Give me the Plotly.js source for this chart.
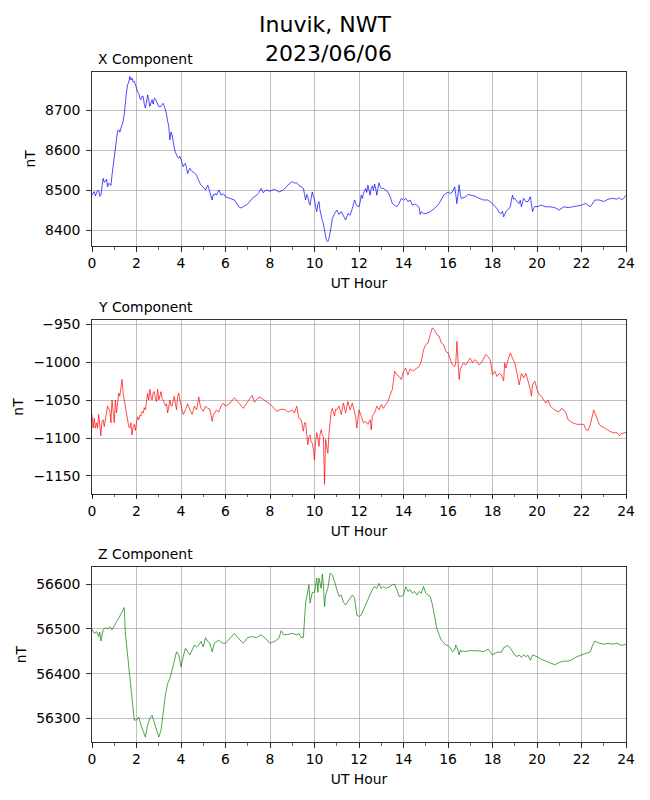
<!DOCTYPE html>
<html>
<head>
<meta charset="utf-8">
<script src="https://cdn.plot.ly/plotly-3.0.1.min.js"></script>
<style>
  html, body { margin: 0; padding: 0; background: #fff; }
  #plot { width: 650px; height: 800px; }
</style>
</head>
<body>
<div id="plot"></div>
<script>
// Inuvik magnetometer, 2023/06/06
var hours_x = [0,0.05,0.1,0.15,0.2,0.25,0.3,0.35,0.4,0.45,0.5,0.55,0.6,0.65,0.7,0.75,0.8,0.85,0.9,0.95,
  1,1.05,1.1,1.15,1.2,1.25,1.3,1.35,1.4,1.45,1.5,1.55,1.6,1.65,1.7,1.75,1.8,1.85,1.9,1.95,
  2,2.05,2.1,2.15,2.2,2.25,2.3,2.35,2.4,2.45,2.5,2.55,2.6,2.65,2.7,2.75,2.8,2.85,2.9,2.95,
  3,3.1,3.15,3.2,3.25,3.3,3.35,3.4,3.45,3.5,3.55,3.6,3.65,3.7,3.75,3.8,3.85,3.9,3.95,
  4,4.05,4.1,4.15,4.2,4.25,4.3,4.35,4.4,4.45,4.5,4.6,4.7,4.75,4.8,4.85,4.9,
  5,5.05,5.1,5.15,5.2,5.25,5.3,5.35,5.4,5.45,5.5,5.55,5.6,5.65,5.7,5.75,5.8,5.9,
  6,6.2,6.4,6.5,6.6,6.7,6.8,7,7.2,7.4,7.5,7.6,7.65,7.7,7.8,
  8,8.2,8.4,8.6,8.8,9,9.1,9.2,9.3,9.4,9.5,9.55,9.6,9.65,9.7,9.75,9.8,9.85,9.9,9.95,
  10,10.05,10.1,10.15,10.2,10.25,10.3,10.35,10.4,10.45,10.5,10.55,10.6,10.65,10.7,10.75,10.8,10.85,10.9,
  11,11.1,11.2,11.3,11.4,11.5,11.6,11.7,11.8,11.9,
  12,12.05,12.1,12.15,12.2,12.3,12.35,12.4,12.45,12.5,12.55,12.6,12.65,12.7,12.75,12.8,12.85,12.9,12.95,
  13,13.1,13.2,13.3,13.4,13.5,13.6,13.7,13.8,13.9,
  14,14.1,14.2,14.3,14.4,14.5,14.6,14.7,14.75,14.8,14.9,
  15,15.2,15.4,15.6,15.8,16,16.1,16.2,16.3,16.35,16.4,16.45,16.5,16.55,16.6,16.8,16.9,
  17,17.2,17.4,17.6,17.8,18,18.1,18.2,18.3,18.4,18.45,18.5,18.55,18.6,18.7,18.8,18.85,18.9,18.95,
  19,19.1,19.2,19.25,19.3,19.35,19.4,19.5,19.6,19.7,19.75,19.8,19.85,19.9,
  20,20.2,20.4,20.6,20.8,21,21.2,21.4,21.6,21.8,22,22.1,22.2,22.4,22.5,22.6,22.8,
  23,23.2,23.4,23.6,23.7,23.8,23.9,24];
var x_nt = [8488,8495,8497,8486,8492,8500,8499,8485,8488,8505,8530,8520,8522,8528,8509,8518,8516,8512,8538,8560,
  8592,8610,8638,8648,8651,8645,8655,8665,8672,8690,8730,8745,8763,8770,8784,8775,8780,8770,8772,8760,
  8755,8745,8742,8730,8726,8735,8734,8715,8705,8720,8738,8725,8709,8718,8726,8715,8730,8728,8722,8712,
  8709,8709,8712,8717,8710,8701,8690,8672,8660,8626,8645,8638,8615,8605,8595,8588,8582,8580,8585,
  8576,8568,8559,8565,8567,8555,8542,8550,8555,8550,8547,8544,8538,8530,8522,8518,8513,
  8509,8505,8501,8508,8513,8505,8497,8485,8476,8490,8488,8492,8488,8495,8501,8495,8488,8492,
  8484,8480,8476,8468,8459,8456,8459,8466,8480,8488,8495,8505,8500,8494,8501,
  8498,8503,8496,8501,8513,8522,8518,8519,8512,8509,8505,8490,8476,8490,8484,8470,8463,8480,8496,8485,
  8476,8460,8447,8465,8472,8450,8434,8425,8417,8395,8384,8375,8372,8380,8392,8410,8430,8438,8442,
  8451,8440,8447,8435,8426,8442,8438,8455,8476,8462,
  8459,8470,8488,8480,8492,8505,8495,8513,8500,8488,8505,8511,8500,8516,8505,8488,8505,8519,8510,
  8505,8505,8501,8496,8484,8467,8463,8459,8467,8480,
  8476,8480,8472,8476,8463,8466,8463,8458,8440,8447,8442,
  8442,8447,8455,8467,8488,8496,8492,8496,8509,8490,8467,8490,8514,8490,8480,8484,8490,
  8488,8486,8480,8476,8476,8467,8460,8455,8445,8442,8448,8434,8440,8447,8452,8459,8475,8488,8478,
  8480,8472,8467,8475,8459,8470,8480,8472,8472,8484,8470,8447,8455,8460,
  8459,8463,8459,8459,8457,8451,8459,8457,8459,8461,8463,8466,8467,8459,8468,8476,8476,
  8472,8478,8480,8478,8482,8476,8480,8488];

var hours_y = [0,0.05,0.1,0.15,0.2,0.25,0.3,0.35,0.4,0.45,0.5,0.55,0.6,0.65,0.7,0.75,0.8,0.85,0.9,0.95,
  1,1.05,1.1,1.15,1.2,1.25,1.3,1.35,1.4,1.45,1.5,1.55,1.6,1.65,1.7,1.75,1.8,1.85,1.9,1.95,
  2,2.05,2.1,2.15,2.2,2.25,2.3,2.35,2.4,2.45,2.5,2.55,2.6,2.65,2.7,2.75,2.8,2.85,2.9,2.95,
  3,3.05,3.1,3.15,3.2,3.3,3.35,3.4,3.45,3.5,3.55,3.6,3.65,3.7,3.75,3.8,3.85,3.9,3.95,
  4,4.05,4.1,4.2,4.3,4.4,4.5,4.6,4.7,4.75,4.8,4.85,4.9,
  5,5.1,5.2,5.3,5.35,5.4,5.45,5.5,5.6,5.7,5.8,5.9,
  6,6.2,6.4,6.6,6.8,7,7.2,7.3,7.5,7.7,7.9,8.1,8.3,8.5,8.7,8.8,
  9,9.1,9.2,9.3,9.4,9.45,9.5,9.55,9.6,9.65,9.7,9.75,9.8,9.85,9.9,9.95,
  10,10.05,10.1,10.15,10.2,10.25,10.3,10.35,10.4,10.45,10.5,10.55,10.6,10.65,10.7,10.75,10.8,10.85,10.9,10.95,
  11,11.1,11.15,11.2,11.3,11.35,11.4,11.5,11.55,11.6,11.7,11.75,11.8,11.85,11.9,11.95,
  12,12.1,12.2,12.3,12.4,12.5,12.55,12.6,12.7,12.8,12.9,
  13,13.1,13.2,13.3,13.4,13.5,13.6,13.7,13.8,13.9,
  14,14.1,14.2,14.3,14.4,14.5,14.6,14.7,14.8,14.9,
  15,15.1,15.2,15.3,15.4,15.5,15.6,15.7,15.8,15.9,
  16,16.1,16.2,16.3,16.35,16.4,16.45,16.5,16.55,16.6,16.7,16.8,16.9,
  17,17.1,17.2,17.3,17.4,17.5,17.6,17.7,17.8,17.9,
  18,18.1,18.2,18.3,18.4,18.5,18.55,18.6,18.7,18.8,18.9,
  19,19.1,19.2,19.3,19.4,19.5,19.6,19.7,19.75,19.8,19.9,
  20,20.1,20.2,20.3,20.4,20.5,20.6,20.7,20.8,20.9,
  21,21.1,21.2,21.3,21.4,21.5,21.6,21.8,
  22,22.1,22.2,22.3,22.4,22.5,22.55,22.6,22.7,22.8,22.9,
  23,23.2,23.4,23.6,23.7,23.8,24];
var y_nt = [-1069,-1087,-1074,-1087,-1080,-1087,-1069,-1080,-1097,-1078,-1076,-1085,-1076,-1070,-1058,-1062,-1063,-1080,-1050,-1065,
  -1080,-1050,-1067,-1055,-1041,-1045,-1030,-1023,-1041,-1050,-1063,-1072,-1080,-1085,-1087,-1080,-1096,-1085,-1082,-1090,
  -1080,-1072,-1076,-1070,-1071,-1065,-1067,-1060,-1063,-1050,-1041,-1050,-1036,-1045,-1050,-1040,-1039,-1048,-1052,-1036,
  -1050,-1045,-1039,-1048,-1050,-1058,-1055,-1067,-1060,-1050,-1058,-1058,-1050,-1045,-1055,-1063,-1045,-1041,-1050,
  -1058,-1065,-1069,-1063,-1055,-1063,-1069,-1058,-1063,-1055,-1046,-1055,-1061,
  -1065,-1058,-1061,-1062,-1070,-1078,-1070,-1067,-1063,-1066,-1058,-1054,
  -1058,-1054,-1047,-1054,-1061,-1052,-1044,-1053,-1046,-1049,-1054,-1058,-1065,-1062,-1063,-1066,
  -1063,-1067,-1058,-1074,-1076,-1085,-1091,-1080,-1080,-1095,-1109,-1098,-1096,-1105,-1107,-1115,
  -1129,-1105,-1093,-1100,-1111,-1095,-1089,-1096,-1098,-1161,-1102,-1112,-1120,-1095,-1076,-1065,-1061,-1068,-1071,-1062,
  -1063,-1058,-1065,-1069,-1054,-1062,-1067,-1052,-1060,-1063,-1054,-1060,-1065,-1072,-1087,-1075,
  -1063,-1071,-1080,-1078,-1082,-1076,-1089,-1071,-1067,-1058,-1063,
  -1056,-1061,-1056,-1052,-1043,-1036,-1012,-1017,-1019,-1023,
  -1012,-1008,-1017,-1009,-1012,-1010,-1008,-1006,-999,-984,
  -977,-975,-964,-955,-958,-964,-966,-975,-977,-986,
  -988,-995,-1004,-1006,-1001,-973,-997,-1023,-1010,-1006,-1001,-1004,-999,
  -995,-1001,-997,-999,-1004,-1001,-995,-990,-993,-997,
  -1017,-1012,-1019,-1015,-1017,-1025,-1001,-1008,-997,-988,-995,
  -1001,-1015,-1030,-1015,-1021,-1015,-1025,-1036,-1045,-1030,-1025,
  -1036,-1043,-1045,-1050,-1054,-1050,-1058,-1061,-1063,-1065,
  -1065,-1061,-1063,-1067,-1076,-1078,-1080,-1082,
  -1082,-1082,-1089,-1090,-1082,-1071,-1063,-1067,-1076,-1082,-1085,
  -1086,-1090,-1093,-1093,-1097,-1094,-1093];

var hours_z = [0,0.1,0.2,0.3,0.35,0.4,0.5,0.6,0.7,0.8,0.9,
  1,1.1,1.2,1.3,1.4,1.45,1.5,1.6,1.7,1.8,1.9,
  2,2.1,2.2,2.3,2.4,2.5,2.6,2.7,2.8,2.9,
  3,3.1,3.2,3.3,3.4,3.5,3.6,3.7,3.8,3.9,
  4,4.1,4.2,4.3,4.4,4.5,4.6,4.7,4.8,4.9,
  5,5.1,5.2,5.3,5.4,5.5,5.6,5.7,5.8,5.9,
  6,6.2,6.4,6.6,6.8,7,7.2,7.4,7.6,7.8,
  8,8.2,8.4,8.5,8.6,8.8,9,9.2,9.3,9.4,9.5,9.6,9.7,9.75,9.8,9.9,
  10,10.1,10.15,10.2,10.3,10.35,10.4,10.45,10.5,10.6,10.7,10.8,10.9,
  11,11.1,11.2,11.3,11.4,11.5,11.6,11.7,11.8,11.9,
  12,12.1,12.2,12.3,12.4,12.5,12.6,12.7,12.8,12.9,
  13,13.1,13.2,13.3,13.4,13.5,13.6,13.7,13.8,13.9,
  14,14.1,14.2,14.3,14.4,14.5,14.6,14.7,14.8,14.9,
  15,15.1,15.2,15.3,15.4,15.5,15.6,15.7,15.8,15.9,
  16,16.1,16.2,16.3,16.35,16.4,16.5,16.55,16.6,16.7,16.8,
  17,17.2,17.4,17.6,17.8,18,18.2,18.4,18.5,18.7,18.8,
  19,19.1,19.2,19.3,19.4,19.5,19.6,19.7,19.8,
  20,20.2,20.4,20.6,20.8,21,21.2,21.4,21.6,21.8,
  22,22.2,22.4,22.5,22.6,22.8,23,23.2,23.4,23.6,23.8,24];
var z_nt = [56500,56490,56494,56483,56493,56473,56498,56503,56500,56505,56498,
  56509,56516,56524,56535,56546,56548,56490,56442,56389,56337,56296,
  56296,56303,56285,56270,56258,56285,56300,56307,56292,56278,
  56258,56273,56315,56352,56378,56389,56408,56430,56449,56442,
  56415,56438,56457,56449,56442,56453,56464,56460,56464,56472,
  56460,56481,56472,56468,56449,56468,56472,56475,56470,56468,
  56468,56479,56490,56478,56468,56481,56483,56481,56487,56479,
  56468,56472,56479,56496,56487,56488,56490,56487,56490,56481,56481,56558,56591,56599,56558,56582,
  56582,56614,56582,56614,56591,56623,56599,56550,56576,56591,56625,56621,56606,
  56588,56573,56576,56560,56554,56561,56569,56576,56569,56531,
  56528,56531,56543,56554,56569,56576,56588,56595,56591,56602,
  56591,56595,56591,56593,56595,56599,56600,56588,56573,56573,
  56576,56595,56584,56588,56580,56584,56576,56584,56580,56595,
  56580,56576,56573,56554,56524,56501,56487,56475,56470,56464,
  56463,56458,56449,56453,56464,56460,56442,56453,56449,56451,56449,
  56452,56451,56451,56449,56455,56442,56448,56448,56458,56463,56457,
  56442,56438,56442,56436,56442,56438,56441,56430,56442,
  56438,56432,56428,56425,56420,56425,56428,56428,56432,56438,
  56442,56445,56449,56464,56473,56468,56466,56468,56466,56468,56463,56466];

var panel_titles = ['X Component', 'Y Component', 'Z Component'];
var y_ranges = [[8362, 8795], [-1173.3, -945.1], [56247, 56638]];
var y_dticks = [100, 50, 100];
var x_ticks = [0, 2, 4, 6, 8, 10, 12, 14, 16, 18, 20, 22, 24];

var font_family = 'DejaVu Sans, sans-serif';

var traces = [
  {x: hours_x, y: x_nt, type: 'scatter', mode: 'lines', line: {color: '#0000ff', width: 0.7}, xaxis: 'x', yaxis: 'y'},
  {x: hours_y, y: y_nt, type: 'scatter', mode: 'lines', line: {color: '#ff0000', width: 0.7}, xaxis: 'x2', yaxis: 'y2'},
  {x: hours_z, y: z_nt, type: 'scatter', mode: 'lines', line: {color: '#008000', width: 0.7}, xaxis: 'x3', yaxis: 'y3'}
];

var domains = [[0.7407, 1], [0.3706, 0.6294], [0, 0.2607]];

function xAxis(n) {
  return {
    domain: [0, 1],
    anchor: 'y' + (n === 1 ? '' : n),
    range: [0, 24],
    tickvals: x_ticks,
    ticks: 'outside', ticklen: 5, tickwidth: 0.8, tickcolor: '#000',
    minor: {dtick: 1, tick0: 0, ticks: 'outside', ticklen: 3, tickwidth: 0.6, tickcolor: '#000', showgrid: false},
    showline: true, mirror: true, linecolor: '#000', linewidth: 0.8,
    showgrid: true, gridcolor: '#b0b0b0', gridwidth: 0.8,
    zeroline: false,
    tickfont: {size: 13.9, color: '#000'},
    title: {text: 'UT Hour', font: {size: 13.9, color: '#000'}, standoff: 7},
    fixedrange: true
  };
}

function yAxis(n) {
  return {
    domain: domains[n - 1],
    anchor: 'x' + (n === 1 ? '' : n),
    range: y_ranges[n - 1],
    dtick: y_dticks[n - 1],
    ticks: 'outside', ticklen: 5, tickwidth: 0.8, tickcolor: '#000',
    ticklabelstandoff: 3,
    showline: true, mirror: true, linecolor: '#000', linewidth: 0.8,
    showgrid: true, gridcolor: '#b0b0b0', gridwidth: 0.8,
    zeroline: false,
    tickformat: 'd',
    tickfont: {size: 13.9, color: '#000'},
    title: {text: 'nT', font: {size: 13.9, color: '#000'}, standoff: 6},
    fixedrange: true
  };
}

var annotations = panel_titles.map(function (t, i) {
  var sfx = i === 0 ? '' : String(i + 1);
  return {
    text: t, showarrow: false,
    xref: 'x' + sfx + ' domain', yref: 'y' + sfx + ' domain',
    x: 0, y: 1, xanchor: 'left', yanchor: 'bottom',
    xshift: 4, yshift: 3,
    font: {size: 13.9, color: '#000'}
  };
});

var layout = {
  width: 650, height: 800,
  margin: {l: 92, r: 24, t: 72, b: 58},
  paper_bgcolor: '#fff', plot_bgcolor: '#fff',
  font: {family: font_family, color: '#000'},
  showlegend: false,
  title: {
    text: 'Inuvik, NWT<br>\u00a02023/06/06',
    font: {size: 22, color: '#000'},
    x: 0.5, xref: 'container', xanchor: 'center',
    y: 0.96, yref: 'container', yanchor: 'top'
  },
  xaxis: xAxis(1), xaxis2: xAxis(2), xaxis3: xAxis(3),
  yaxis: yAxis(1), yaxis2: yAxis(2), yaxis3: yAxis(3),
  annotations: annotations
};

Plotly.newPlot('plot', traces, layout, {displayModeBar: false, staticPlot: true});
</script>
</body>
</html>
